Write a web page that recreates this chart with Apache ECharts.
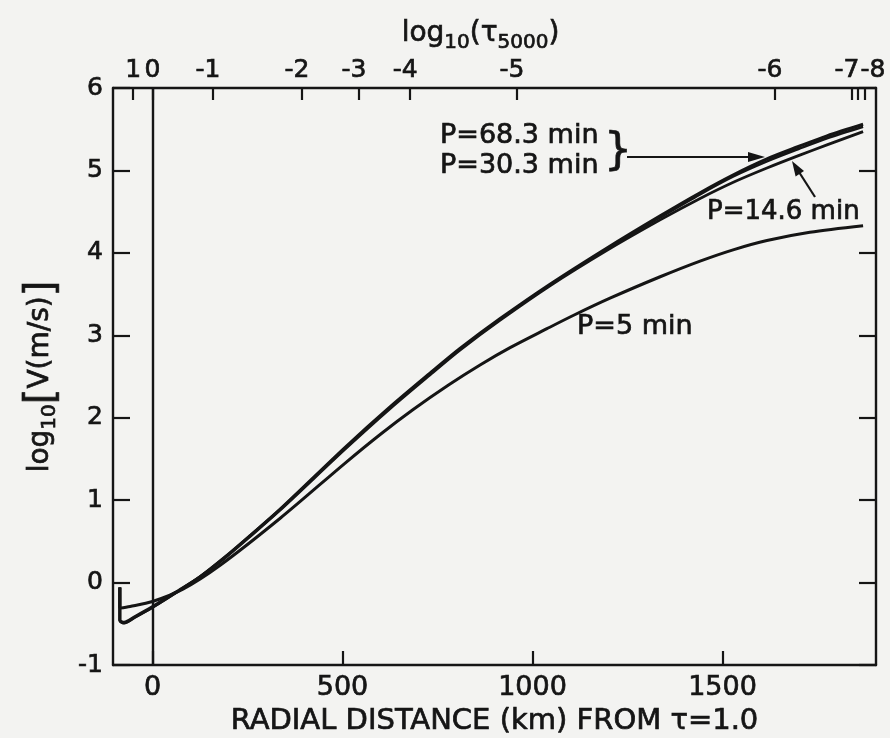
<!DOCTYPE html>
<html><head><meta charset="utf-8">
<script src="https://cdn.jsdelivr.net/npm/echarts@6/dist/echarts.min.js"></script>
<style>html,body{margin:0;padding:0;background:#f3f3f1;} #c{width:890px;height:738px;}</style>
</head><body><div id="c"></div>
<script>
// ---- data ----
const kmTicks = [0, 500, 1000, 1500];
const tauTickKm = [-51, 0, 159, 393, 543, 678, 959, 1638, 1841, 1857, 1875];
const tauLabelKm = [-51, 0, 159, 393, 543, 678, 959, 1638, 1841, 1875];
const tauLabels = ['1', '0', '-1', '-2', '-3', '-4', '-5', '-6', '-7', '-8'];

const p683 = [[-86,-0.06],[-86,-0.46],[-75,-0.49],[-46,-0.42],[0,-0.30],[59,-0.13],[125,0.07],[191,0.31],[257,0.57],[336,0.89],[507,1.64],[625,2.13],[738,2.57],[809,2.84],[914,3.20],[1046,3.62],[1196,4.06],[1336,4.45],[1441,4.73],[1530,4.95],[1617,5.14],[1700,5.29],[1775,5.42],[1870,5.56]];
const p303 = [[-86,-0.06],[-86,-0.46],[-75,-0.49],[-46,-0.42],[0,-0.30],[59,-0.13],[125,0.07],[191,0.31],[257,0.57],[336,0.89],[507,1.63],[625,2.12],[738,2.56],[809,2.83],[914,3.19],[1046,3.61],[1196,4.05],[1336,4.43],[1441,4.71],[1530,4.93],[1617,5.11],[1700,5.26],[1775,5.39],[1870,5.53]];
const p146 = [[-86,-0.06],[-86,-0.45],[-75,-0.48],[-46,-0.41],[0,-0.29],[59,-0.12],[125,0.07],[191,0.30],[257,0.56],[336,0.88],[507,1.62],[625,2.11],[738,2.55],[809,2.82],[914,3.18],[1046,3.60],[1196,4.03],[1336,4.40],[1441,4.66],[1530,4.86],[1617,5.03],[1700,5.18],[1775,5.31],[1870,5.47]];
const p5 = [[-86,-0.06],[-86,-0.31],[-59,-0.29],[0,-0.23],[80,-0.08],[178,0.21],[336,0.78],[507,1.45],[600,1.80],[686,2.10],[780,2.40],[862,2.64],[941,2.85],[1038,3.08],[1107,3.24],[1204,3.45],[1336,3.71],[1441,3.90],[1530,4.04],[1617,4.15],[1730,4.25],[1870,4.33]];

// ---- chart ----
const FONT = 'DejaVu Sans';
const INK = '#151515';
const BW = 0.7; // slight text emboldening to match the inked lettering
const chart = echarts.init(document.getElementById('c'), null, {renderer: 'canvas'});

function line(name, data, width) {
  return {name, type: 'line', data, symbol: 'none', smooth: 0.3, silent: true,
    lineStyle: {color: INK, width}, z: 3};
}
function ts(size, extra) {
  return Object.assign({fontSize: size, fontFamily: FONT, color: INK, textBorderColor: INK, textBorderWidth: BW}, extra || {});
}

function tauFmt(v) {
  const i = tauLabelKm.indexOf(v);
  const t = i >= 0 ? tauLabels[i] : '';
  if (t === '-8') return '{r|' + t + '}';
  if (t.charAt(0) === '-') return '{n|' + t + '}';
  return '{p|' + t + '}';
}

const axLine = {show: true, onZero: false, lineStyle: {color: INK, width: 2.4}};
const tickStyle = {color: INK, width: 2.2};

function gText(x, y, text, size) {
  return {type: 'text', x, y, style: {text, font: size + 'px "DejaVu Sans"', fill: INK,
    stroke: INK, lineWidth: BW, textVerticalAlign: 'middle', verticalAlign: 'middle'}};
}

chart.setOption({
  animation: false,
  backgroundColor: '#f3f3f1',
  grid: {left: 113, right: 14, top: 88, bottom: 73, containLabel: false, outerBoundsMode: 'none'},
  xAxis: [{
    type: 'value', min: -104, max: 1904, position: 'bottom',
    axisLine: axLine, splitLine: {show: false},
    axisTick: {show: true, inside: true, length: 14, customValues: kmTicks, lineStyle: tickStyle},
    axisLabel: Object.assign({customValues: kmTicks, formatter: v => String(v), margin: 9}, ts(27)),
    name: 'RADIAL DISTANCE (km) FROM τ=1.0', nameLocation: 'middle', nameGap: 35,
    nameTextStyle: ts(29)
  }, {
    type: 'value', min: -104, max: 1904, position: 'top',
    axisLine: axLine, splitLine: {show: false},
    axisTick: {show: true, inside: true, length: 12, customValues: tauTickKm, lineStyle: tickStyle},
    axisLabel: {customValues: tauLabelKm, formatter: tauFmt, margin: 5,
      rich: {
        p: ts(25),
        n: ts(25, {padding: [0, 10, 0, 0]}),
        r: ts(25, {padding: [0, 0, 0, 16]})
      }},
    name: '{a|log}{s|10}{a|(τ}{s|5000}{a|)}', nameLocation: 'middle', nameGap: 40,
    nameTextStyle: {padding: [0, 28, 0, 0], rich: {
      a: ts(28, {verticalAlign: 'top', lineHeight: 28}),
      s: ts(20, {verticalAlign: 'top', lineHeight: 20, padding: [13, 0, 0, 0]})
    }}
  }],
  yAxis: [{
    type: 'value', min: -1, max: 6, interval: 1, position: 'left',
    axisLine: axLine, splitLine: {show: false},
    axisTick: {show: true, inside: true, length: 17, lineStyle: tickStyle},
    axisLabel: Object.assign({margin: 10}, ts(25)),
    name: '{a|log}{s|10}{b|[}{a|V(m/s)}{b|]}', nameLocation: 'middle', nameGap: 50, nameRotate: 90,
    nameTextStyle: {rich: {
      a: ts(28, {verticalAlign: 'top', lineHeight: 34, padding: [4, 0, 0, 0]}),
      s: ts(20, {verticalAlign: 'top', lineHeight: 20, padding: [17, 0, 0, 0]}),
      b: ts(40, {verticalAlign: 'top', lineHeight: 40})
    }}
  }, {
    type: 'value', min: -1, max: 6, interval: 1, position: 'right',
    axisLine: axLine, splitLine: {show: false},
    axisTick: {show: true, inside: true, length: 17, lineStyle: tickStyle},
    axisLabel: {show: false}
  }],
  series: [
    Object.assign(line('P=68.3 min', p683, 3), {
      markLine: {silent: true, symbol: 'none', label: {show: false},
        lineStyle: {color: INK, width: 2.4, type: 'solid'}, data: [{xAxis: 0}]}
    }),
    line('P=30.3 min', p303, 2.6),
    line('P=14.6 min', p146, 2.8),
    line('P=5 min', p5, 3)
  ],
  graphic: [
    gText(440, 136, 'P=68.3 min', 27),
    gText(440, 166, 'P=30.3 min', 27),
    gText(604, 153, '}', 44),
    {type: 'line', shape: {x1: 627, y1: 157, x2: 752, y2: 157}, style: {stroke: INK, lineWidth: 2.2}},
    {type: 'polygon', shape: {points: [[765, 157], [748, 152], [748, 162]]}, style: {fill: INK}},
    gText(707, 212, 'P=14.6 min', 26),
    {type: 'line', shape: {x1: 815, y1: 197, x2: 799, y2: 172}, style: {stroke: INK, lineWidth: 2.2}},
    {type: 'polygon', shape: {points: [[792, 161], [804, 171], [795.6, 176.4]]}, style: {fill: INK}},
    gText(577, 327, 'P=5 min', 27)
  ]
});
</script>
</body></html>
